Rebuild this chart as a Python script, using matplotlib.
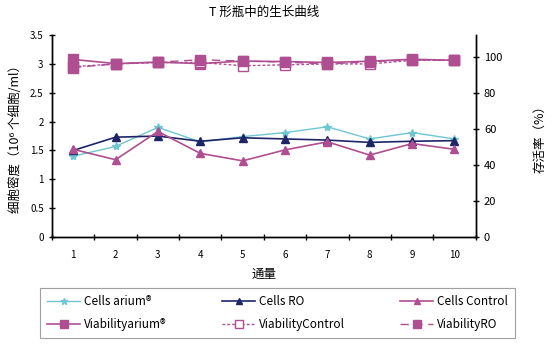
import matplotlib.pyplot as plt
import numpy as np

plt.rcParams['font.family'] = ['Noto Sans CJK SC', 'DejaVu Sans']

passages = [1, 2, 3, 4, 5, 6, 7, 8, 9, 10]

# 细胞密度 (10^6 个细胞/ml)
cells_arium = [1.40, 1.57, 1.90, 1.65, 1.74, 1.81, 1.91, 1.70, 1.81, 1.70]
cells_ro = [1.50, 1.73, 1.75, 1.66, 1.72, 1.70, 1.68, 1.64, 1.66, 1.67]
cells_control = [1.52, 1.34, 1.83, 1.45, 1.32, 1.51, 1.65, 1.42, 1.62, 1.52]

# 存活率 (%)
via_arium = [98.5, 96.2, 97.0, 96.2, 97.6, 97.3, 96.8, 97.5, 98.6, 98.0]
via_control = [94.5, 96.0, 96.8, 96.8, 95.0, 95.5, 96.0, 96.0, 98.0, 98.0]
via_ro = [94.0, 96.0, 97.0, 98.3, 97.6, 97.0, 96.0, 97.2, 98.3, 98.0]

c_cyan = '#6ec6d3'
c_navy = '#1e2567'
c_mag = '#b04e92'

fig = plt.figure(figsize=(5.56, 3.44), dpi=100)
ax = fig.add_axes([0.0935, 0.311, 0.762, 0.587])
ax2 = ax.twinx()

l1, = ax.plot(passages, cells_arium, color=c_cyan, lw=1, marker='*', ms=6,
              label='Cells arium®')
l2, = ax.plot(passages, cells_ro, color=c_navy, lw=1.2, marker='^', ms=6,
              label='Cells RO')
l3, = ax.plot(passages, cells_control, color=c_mag, lw=1.2, marker='^', ms=6,
              label='Cells Control')

l4, = ax2.plot(passages, via_arium, color=c_mag, lw=1.2, marker='s', ms=7,
               label='Viabilityarium®')
l5, = ax2.plot(passages, via_control, color=c_mag, lw=1, ls=(0, (2, 1.5)),
               marker='s', ms=7, mfc='white', label='ViabilityControl')
l6, = ax2.plot(passages, via_ro, color=c_mag, lw=1, ls=(0, (6, 4)),
               marker='s', ms=7, label='ViabilityRO')

ax.set_xlim(0.5, 10.5)
ax.set_ylim(0, 3.5)
ax2.set_ylim(0, 112)
ax.set_yticks(np.arange(0, 3.51, 0.5))
ax.set_yticklabels(['0', '0.5', '1', '1.5', '2', '2.5', '3', '3.5'])
ax2.set_yticks([0, 20, 40, 60, 80, 100])

ax.set_xticks(passages)
ax.set_xticks(np.arange(0.5, 10.6, 1), minor=True)
ax.tick_params(axis='x', which='major', length=0, labelsize=7, pad=9)
ax.tick_params(axis='x', which='minor', length=5, direction='inout', width=1)
ax.tick_params(axis='y', labelsize=7, length=5, direction='inout', width=1)
ax2.tick_params(axis='y', labelsize=8, length=5, direction='inout', width=1)

for a in (ax, ax2):
    a.spines['top'].set_visible(False)
    for s in ('left', 'right', 'bottom'):
        a.spines[s].set_linewidth(1)

ax.set_title('T 形瓶中的生长曲线', fontsize=9, pad=14)
ax.set_xlabel('通量', fontsize=9, labelpad=6)
ax.set_ylabel('细胞密度（10⁶ 个细胞/ml）', fontsize=9, labelpad=6)
ax2.set_ylabel('存活率（%）', fontsize=9, labelpad=22)

order = [l1, l4, l2, l5, l3, l6]
leg = fig.legend(order, [h.get_label() for h in order],
                 ncol=3, loc='lower left', mode='expand',
                 bbox_to_anchor=(40 / 556, 6 / 344, 475 / 556, 56 / 344),
                 fontsize=8.5, fancybox=False, edgecolor='#888888',
                 handlelength=2.8, handletextpad=0.3, columnspacing=2.0,
                 borderpad=0.6, labelspacing=0.8, markerscale=0.8,
                 borderaxespad=0)
leg.get_frame().set_linewidth(0.8)

fig.savefig('out.png', dpi=100)
